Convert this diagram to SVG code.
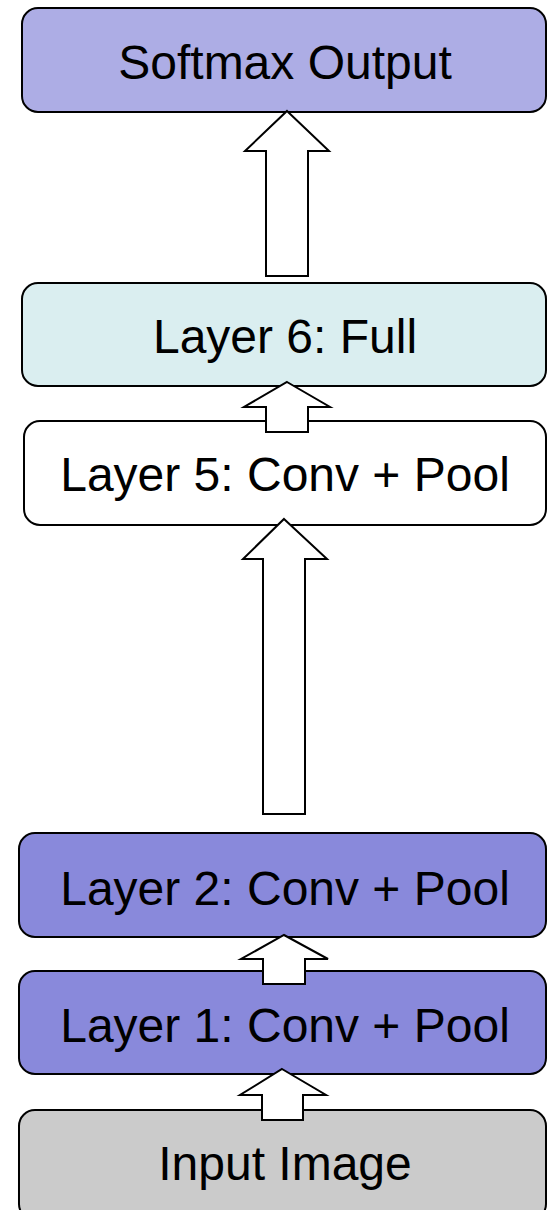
<svg xmlns="http://www.w3.org/2000/svg" width="547" height="1210" viewBox="0 0 547 1210">
<style>
.box{stroke:#000;stroke-width:2}
.lbl{font-family:"Liberation Sans",Arial,sans-serif;font-size:48px;fill:#000;text-anchor:middle}
.arr{fill:#fff;stroke:#000;stroke-width:2;stroke-linejoin:miter}
</style>
<rect width="547" height="1210" fill="#fff"/>
<g id="softmax"><rect class="box" x="22" y="8" width="524" height="104" rx="16" fill="#ADADE5"/><text class="lbl" x="285" y="79">Softmax Output</text></g>
<g id="layer6"><rect class="box" x="22" y="283" width="524" height="103" rx="16" fill="#DAEEF0"/><text class="lbl" x="285" y="353">Layer 6: Full</text></g>
<g id="layer5"><rect class="box" x="24" y="421" width="522" height="104" rx="16" fill="#FFFFFF"/><text class="lbl" x="285" y="491">Layer 5: Conv + Pool</text></g>
<g id="layer2"><rect class="box" x="19" y="833" width="527" height="104" rx="16" fill="#8989DB"/><text class="lbl" x="285" y="905">Layer 2: Conv + Pool</text></g>
<g id="layer1"><rect class="box" x="19" y="971" width="527" height="103" rx="16" fill="#8989DB"/><text class="lbl" x="285" y="1042">Layer 1: Conv + Pool</text></g>
<g id="input"><rect class="box" x="19" y="1110" width="527" height="110" rx="16" fill="#CBCBCB"/><text class="lbl" x="285" y="1180">Input Image</text></g>
<g id="connectors">
<polygon class="arr" points="287,111 329,151 308,151 308,276 266,276 266,151 245,151"/>
<polygon class="arr" points="287,382 330,407 308,407 308,432 266,432 266,407 244,407"/>
<polygon class="arr" points="284,519 327,559 305,559 305,814 263,814 263,559 243,559"/>
<polygon class="arr" points="284,935 328,959 305,959 305,984 263,984 263,959 241,959"/>
<polygon class="arr" points="282,1069 326,1095 303,1095 303,1120 262,1120 262,1095 240,1095"/>
</g>
</svg>
